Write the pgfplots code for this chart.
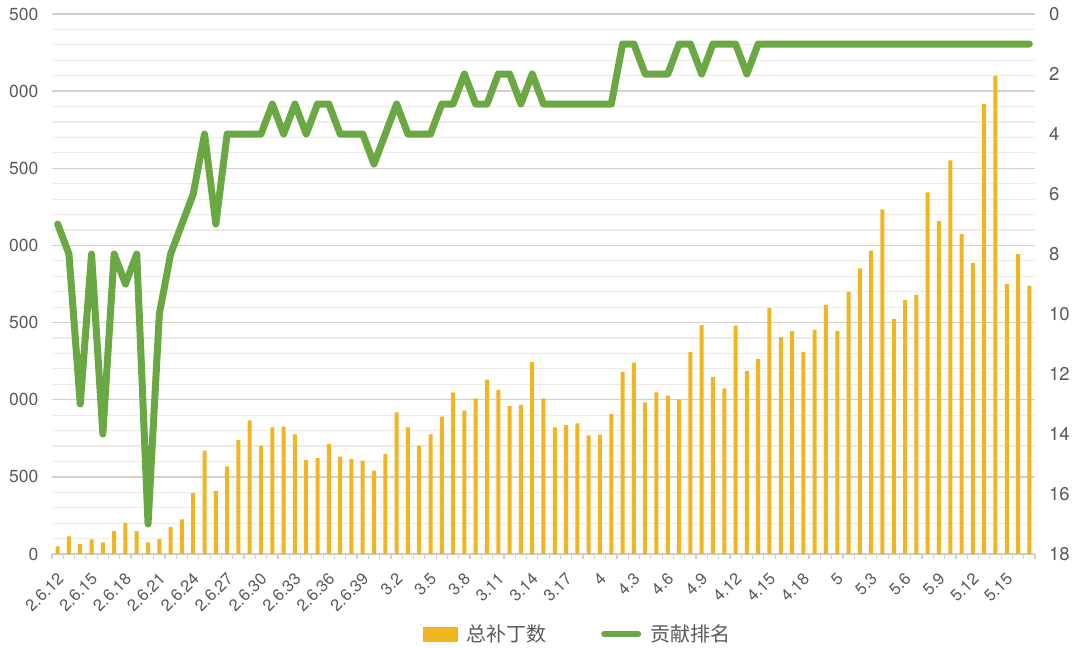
\documentclass[border=0pt]{standalone}
\usepackage{fontspec}
\setmainfont{TeX Gyre Heros}
\newfontfamily\cjk{Noto Sans CJK SC}
\usepackage{pgfplots}
\usepackage{pgfplotstable}
\pgfplotsset{compat=1.18}
\definecolor{barc}{HTML}{F1B521}
\definecolor{linec}{HTML}{6AA843}
\definecolor{gmaj}{HTML}{D6CFCA}
\definecolor{gmin}{HTML}{EEEBE8}
\definecolor{txt}{HTML}{5A5A5A}
\definecolor{axc}{HTML}{CFCFCF}

\pgfplotstableread{
x y
0 50
1 115
2 65
3 95
4 76
5 149
6 201
7 149
8 76
9 97
10 175
11 225
12 395
13 670
14 408
15 568
16 739
17 866
18 702
19 821
20 826
21 776
22 609
23 622
24 713
25 631
26 616
27 605
28 540
29 648
30 918
31 821
32 702
33 776
34 890
35 1048
36 929
37 1009
38 1130
39 1063
40 959
41 966
42 1244
43 1009
44 821
45 836
46 846
47 769
48 773
49 907
50 1180
51 1240
52 983
53 1048
54 1026
55 1002
56 1310
57 1484
58 1148
59 1074
60 1480
61 1186
62 1264
63 1595
64 1406
65 1445
66 1310
67 1452
68 1614
69 1445
70 1700
71 1851
72 1966
73 2234
74 1523
75 1646
76 1679
77 2344
78 2158
79 2551
80 2074
81 1886
82 2916
83 3100
84 1750
85 1944
86 1739
}\bars

\pgfplotstableread{
x r
0 7
1 8
2 13
3 8
4 14
5 8
6 9
7 8
8 17
9 10
10 8
11 7
12 6
13 4
14 7
15 4
16 4
17 4
18 4
19 3
20 4
21 3
22 4
23 3
24 3
25 4
26 4
27 4
28 5
29 4
30 3
31 4
32 4
33 4
34 3
35 3
36 2
37 3
38 3
39 2
40 2
41 3
42 2
43 3
44 3
45 3
46 3
47 3
48 3
49 3
50 1
51 1
52 2
53 2
54 2
55 1
56 1
57 2
58 1
59 1
60 1
61 2
62 1
63 1
64 1
65 1
66 1
67 1
68 1
69 1
70 1
71 1
72 1
73 1
74 1
75 1
76 1
77 1
78 1
79 1
80 1
81 1
82 1
83 1
84 1
85 1
86 1
}\ranks

\begin{document}
\begin{tikzpicture}
\useasboundingbox (-52bp,-94bp) rectangle (1034bp,554bp);
\clip (-43.2bp,-94bp) rectangle (1034bp,554bp);
\begin{axis}[
  scale only axis, width=983bp, height=540bp,
  xmin=-0.5, xmax=86.5, ymin=0, ymax=3500,
  axis x line*=bottom, axis y line*=left,
  y axis line style={draw=none},
  x axis line style={draw=axc, line width=1.5bp, -},
  ytick={0,500,...,3500}, minor y tick num=4,
  ymajorgrids, yminorgrids,
  major grid style={draw=gmaj, line width=1.5bp},
  minor grid style={draw=gmin, line width=1.2bp},
  xtick={0,3,...,84},
  xticklabels={2.6.12,2.6.15,2.6.18,2.6.21,2.6.24,2.6.27,2.6.30,2.6.33,2.6.36,2.6.39,3.2,3.5,3.8,3.11,3.14,3.17,4,4.3,4.6,4.9,4.12,4.15,4.18,5,5.3,5.6,5.9,5.12,5.15},
  minor xtick={-0.5,0.5,...,86.5},
  tick align=outside,
  major tick length=0pt,
  minor tick length=5bp,
  minor x tick style={draw=axc, line width=1.2bp},
  minor y tick style={draw=none},
  major y tick style={draw=none},
  major x tick style={draw=none},
  /pgf/number format/assume math mode=true,
  /pgf/number format/1000 sep={},
  yticklabel style={font=\fontsize{17.5bp}{20bp}\selectfont, text=txt, inner sep=0pt, anchor=east, xshift=-13.5bp},
  xticklabel style={font=\fontsize{16.5bp}{19bp}\selectfont, text=txt, inner sep=0pt, xshift=3bp, yshift=-22bp, rotate=45, anchor=east},
]
\addplot[ybar, bar width=4bp, fill=barc, draw=none, forget plot] table[x=x,y=y]{\bars};
\end{axis}
\begin{axis}[
  scale only axis, width=983bp, height=540bp,
  xmin=-0.5, xmax=86.5, ymin=0, ymax=18, y dir=reverse,
  hide x axis, axis y line*=right, y axis line style={draw=none},
  ytick={0,2,...,18}, major tick length=0pt, major y tick style={draw=none},
  /pgf/number format/assume math mode=true,
  yticklabel style={font=\fontsize{18.5bp}{22bp}\selectfont, text=txt, inner sep=0pt, anchor=west, xshift=14bp},
  legend style={at={(0.377,-0.148)}, anchor=west, draw=none, fill=none, inner sep=0pt,
    nodes={inner sep=0pt},
    font=\cjk\fontsize{20bp}{24bp}\selectfont, text=txt,
    /tikz/every odd column/.append style={column sep=9bp},
    /tikz/every even column/.append style={column sep=55bp}},
  legend columns=2,
]
\addlegendimage{legend image code/.code={\fill[barc] (0bp,-7bp) rectangle (34bp,7bp);}}
\addlegendentry{总补丁数}
\addplot[linec, line width=7bp, line join=round, line cap=round, mark=none,
  legend image code/.code={\draw[linec, line width=6bp, line cap=round] (3bp,0bp) -- (37bp,0bp);}]
  table[x=x,y=r]{\ranks};
\addlegendentry{贡献排名}
\end{axis}
\end{tikzpicture}
\end{document}
